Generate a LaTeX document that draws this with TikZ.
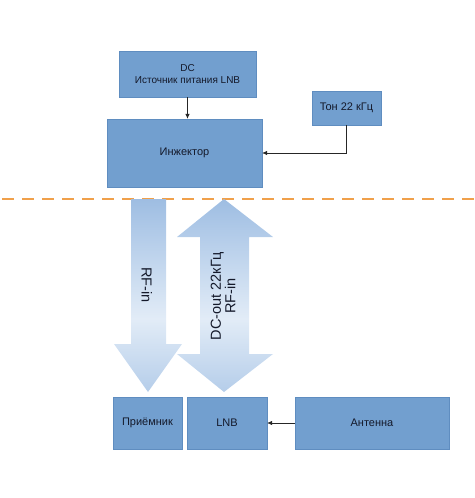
\documentclass[tikz,border=0pt]{standalone}
\usepackage{fontspec}
\setmainfont{Liberation Sans}
\usetikzlibrary{arrows.meta}
\definecolor{boxblue}{HTML}{729FCF}
\definecolor{boxline}{HTML}{5F8DC0}
\definecolor{arrblue}{HTML}{6795CC}
\definecolor{arrmid}{HTML}{A9C5E6}
\definecolor{arrlight}{HTML}{E2ECF7}
\definecolor{dashorange}{HTML}{F0A04B}
\definecolor{txt}{HTML}{14192A}
\pgfdeclareverticalshading{bigarrowshade}{100bp}{color(0bp)=(arrblue); color(20bp)=(arrmid); color(44bp)=(arrlight); color(70bp)=(arrmid); color(100bp)=(arrblue)}
\tikzset{
  blockbox/.style={draw=boxline, line width=0.4pt, fill=boxblue, inner sep=0pt, text=txt, font=\fontsize{11}{12.5}\selectfont, align=center},
  conn/.style={draw=black!85, line width=0.6pt, -{Latex[length=5pt,width=4.5pt]}},
  bigarrow/.style={shading=bigarrowshade, draw=none},
  arrowtext/.style={text=txt, font=\fontsize{14.5}{14.5}\selectfont, align=center, inner sep=0pt}
}
\begin{document}
\begin{tikzpicture}[x=1pt,y=-1pt]
\useasboundingbox (0,0) rectangle (474,498);
% top part
\node[blockbox, minimum width=137pt, minimum height=46pt, font=\fontsize{10}{12}\selectfont] (dc) at (187.5,74) {DC\\Источник питания LNB};
\node[blockbox, minimum width=155pt, minimum height=68pt] (inj) at (184.5,153) {Инжектор};
\node[blockbox, minimum width=69pt, minimum height=34pt] (tone) at (346.5,108) {Тон 22 кГц};
\draw[conn] (dc.south) -- (dc.south |- inj.north);
\draw[conn] (tone.south) |- (inj.east);
% dashed separator
\coordinate (dl) at (0,199);
\coordinate (dr) at (474,199);
\draw[dashorange, line width=2.2pt, dash pattern=on 12pt off 8pt, dash phase=-2pt] (dl) -- (dr);
% big arrows
\path[bigarrow] (131,199) -- (166,199) -- (166,344) -- (182,344) -- (148,392) -- (114,344) -- (131,344) -- cycle;
\path[bigarrow] (224,199) -- (273,237) -- (249,237) -- (249,354) -- (273,354) -- (224,392) -- (177,354) -- (200,354) -- (200,237) -- (177,237) -- cycle;
\node[arrowtext, rotate=-90] (rfin) at (147,285) {RF-in};
\node[arrowtext, rotate=90] (dcout) at (223,296) {DC-out 22кГц\\RF-in};
% bottom boxes
\node[blockbox, minimum width=69pt, minimum height=52pt] (recv) at (147.5,423) {Приёмник};
\node[blockbox, minimum width=80pt, minimum height=52pt] (lnb) at (227,423) {LNB};
\node[blockbox, minimum width=154pt, minimum height=52pt] (ant) at (372,423) {Антенна};
\draw[conn] (ant.west) -- (lnb.east);
\end{tikzpicture}
\end{document}
